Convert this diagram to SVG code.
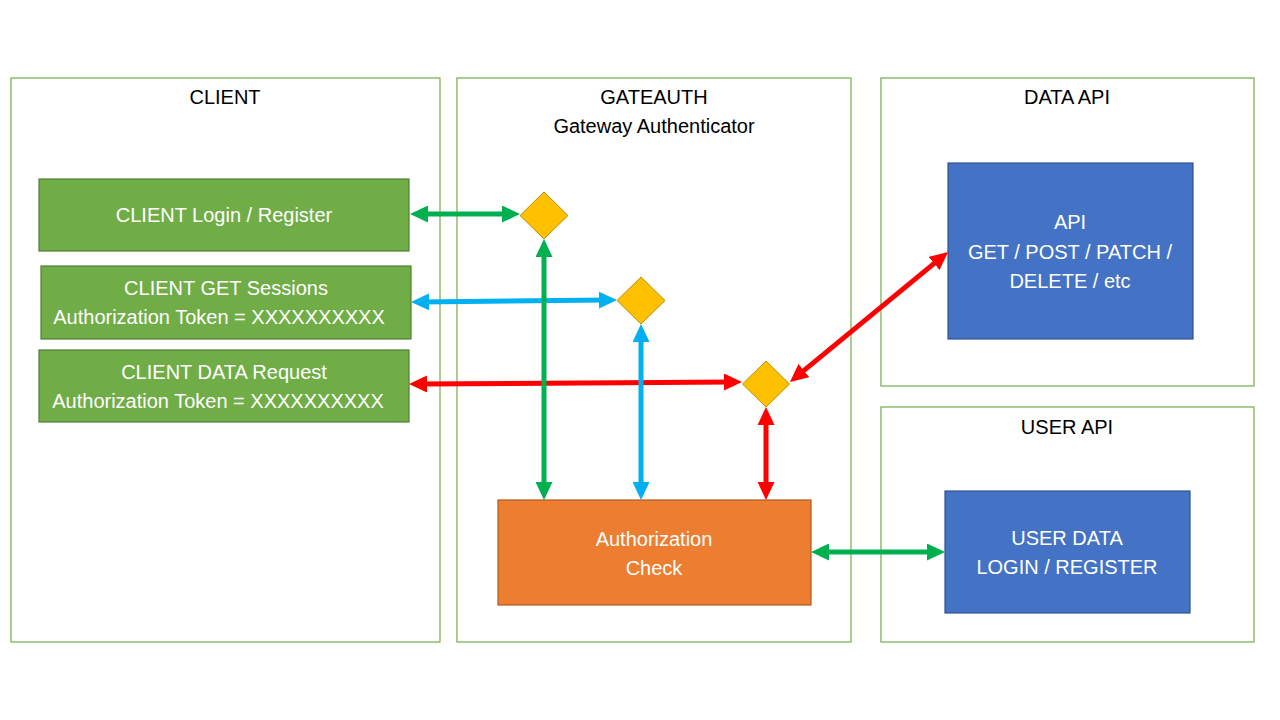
<svg xmlns="http://www.w3.org/2000/svg" width="1280" height="720" viewBox="0 0 1280 720">
<style>
.bg{fill:#fff}
.cont{fill:#fff;stroke:#70AD47;stroke-width:1.2}
.gn{fill:#70AD47;stroke:#507E32;stroke-width:1.2}
.bn{fill:#4472C4;stroke:#2F528F;stroke-width:1.2}
.on{fill:#ED7D31;stroke:#AE5A21;stroke-width:1.2}
.dm{fill:#FFC000;stroke:#BC8C00;stroke-width:1}
text{font-family:"Liberation Sans",Arial,sans-serif;font-size:20px;text-anchor:middle}
.t{fill:#000}
.w{fill:#fff}
.g{stroke:#00B050;stroke-width:5;fill:none}
.b{stroke:#00B0F0;stroke-width:5;fill:none}
.r{stroke:#FF0000;stroke-width:5;fill:none}
</style>
<defs>
<marker id="ag" markerUnits="userSpaceOnUse" markerWidth="18" markerHeight="17" refX="8" refY="8.5" orient="auto-start-reverse"><path d="M0,0 L18,8.5 L0,17 z" fill="#00B050"/></marker>
<marker id="ab" markerUnits="userSpaceOnUse" markerWidth="18" markerHeight="17" refX="8" refY="8.5" orient="auto-start-reverse"><path d="M0,0 L18,8.5 L0,17 z" fill="#00B0F0"/></marker>
<marker id="ar" markerUnits="userSpaceOnUse" markerWidth="18" markerHeight="17" refX="8" refY="8.5" orient="auto-start-reverse"><path d="M0,0 L18,8.5 L0,17 z" fill="#FF0000"/></marker>
</defs>
<rect class="bg" width="1280" height="720"/>
<g id="client-container">
<rect class="cont" x="11" y="78" width="429" height="564"/>
<text class="t" x="225" y="104">CLIENT</text>
</g>
<g id="gateauth-container">
<rect class="cont" x="457" y="78" width="394" height="564"/>
<text class="t" x="654" y="104">GATEAUTH</text>
<text class="t" x="654" y="133">Gateway Authenticator</text>
</g>
<g id="dataapi-container">
<rect class="cont" x="881" y="78" width="373" height="308"/>
<text class="t" x="1067" y="104">DATA API</text>
</g>
<g id="userapi-container">
<rect class="cont" x="881" y="407" width="373" height="235"/>
<text class="t" x="1067" y="434">USER API</text>
</g>
<g id="client-login">
<rect class="gn" x="39" y="179" width="370" height="72"/>
<text class="w" x="224" y="222">CLIENT Login / Register</text>
</g>
<g id="client-sessions">
<rect class="gn" x="41" y="266" width="370" height="73"/>
<text class="w" x="226" y="295">CLIENT GET Sessions</text>
<text class="w" x="219" y="324">Authorization Token = XXXXXXXXXX</text>
</g>
<g id="client-data">
<rect class="gn" x="39" y="350" width="370" height="72"/>
<text class="w" x="224" y="379">CLIENT DATA Request</text>
<text class="w" x="218" y="408">Authorization Token = XXXXXXXXXX</text>
</g>
<g id="auth-check">
<rect class="on" x="498" y="500" width="313" height="105"/>
<text class="w" x="654" y="546">Authorization</text>
<text class="w" x="654" y="575">Check</text>
</g>
<g id="api">
<rect class="bn" x="948" y="163" width="245" height="176"/>
<text class="w" x="1070" y="229">API</text>
<text class="w" x="1070" y="259">GET / POST / PATCH /</text>
<text class="w" x="1070" y="288">DELETE / etc</text>
</g>
<g id="user-data">
<rect class="bn" x="945" y="491" width="245" height="122"/>
<text class="w" x="1067" y="545">USER DATA</text>
<text class="w" x="1067" y="574">LOGIN / REGISTER</text>
</g>
<g id="diamond1"><path class="dm" d="M544,192 L568,215.5 L544,239 L520,215.5 z"/></g>
<g id="diamond2"><path class="dm" d="M641,277 L665,300.5 L641,324 L617,300.5 z"/></g>
<g id="diamond3"><path class="dm" d="M766,361 L789.5,384 L766,407 L742.5,384 z"/></g>
<g id="connectors">
<line class="g" x1="420" y1="214" x2="510" y2="214" marker-start="url(#ag)" marker-end="url(#ag)"/>
<line class="b" x1="421" y1="302" x2="607" y2="300" marker-start="url(#ab)" marker-end="url(#ab)"/>
<line class="r" x1="419" y1="384" x2="732" y2="382" marker-start="url(#ar)" marker-end="url(#ar)"/>
<line class="g" x1="544" y1="249" x2="544" y2="490" marker-start="url(#ag)" marker-end="url(#ag)"/>
<line class="b" x1="641" y1="334" x2="641" y2="490" marker-start="url(#ab)" marker-end="url(#ab)"/>
<line class="r" x1="766" y1="417" x2="766" y2="490" marker-start="url(#ar)" marker-end="url(#ar)"/>
<line class="r" x1="797.7" y1="375.6" x2="940.3" y2="258.4" marker-start="url(#ar)" marker-end="url(#ar)"/>
<line class="g" x1="821" y1="552" x2="935" y2="552" marker-start="url(#ag)" marker-end="url(#ag)"/>
</g>
</svg>
